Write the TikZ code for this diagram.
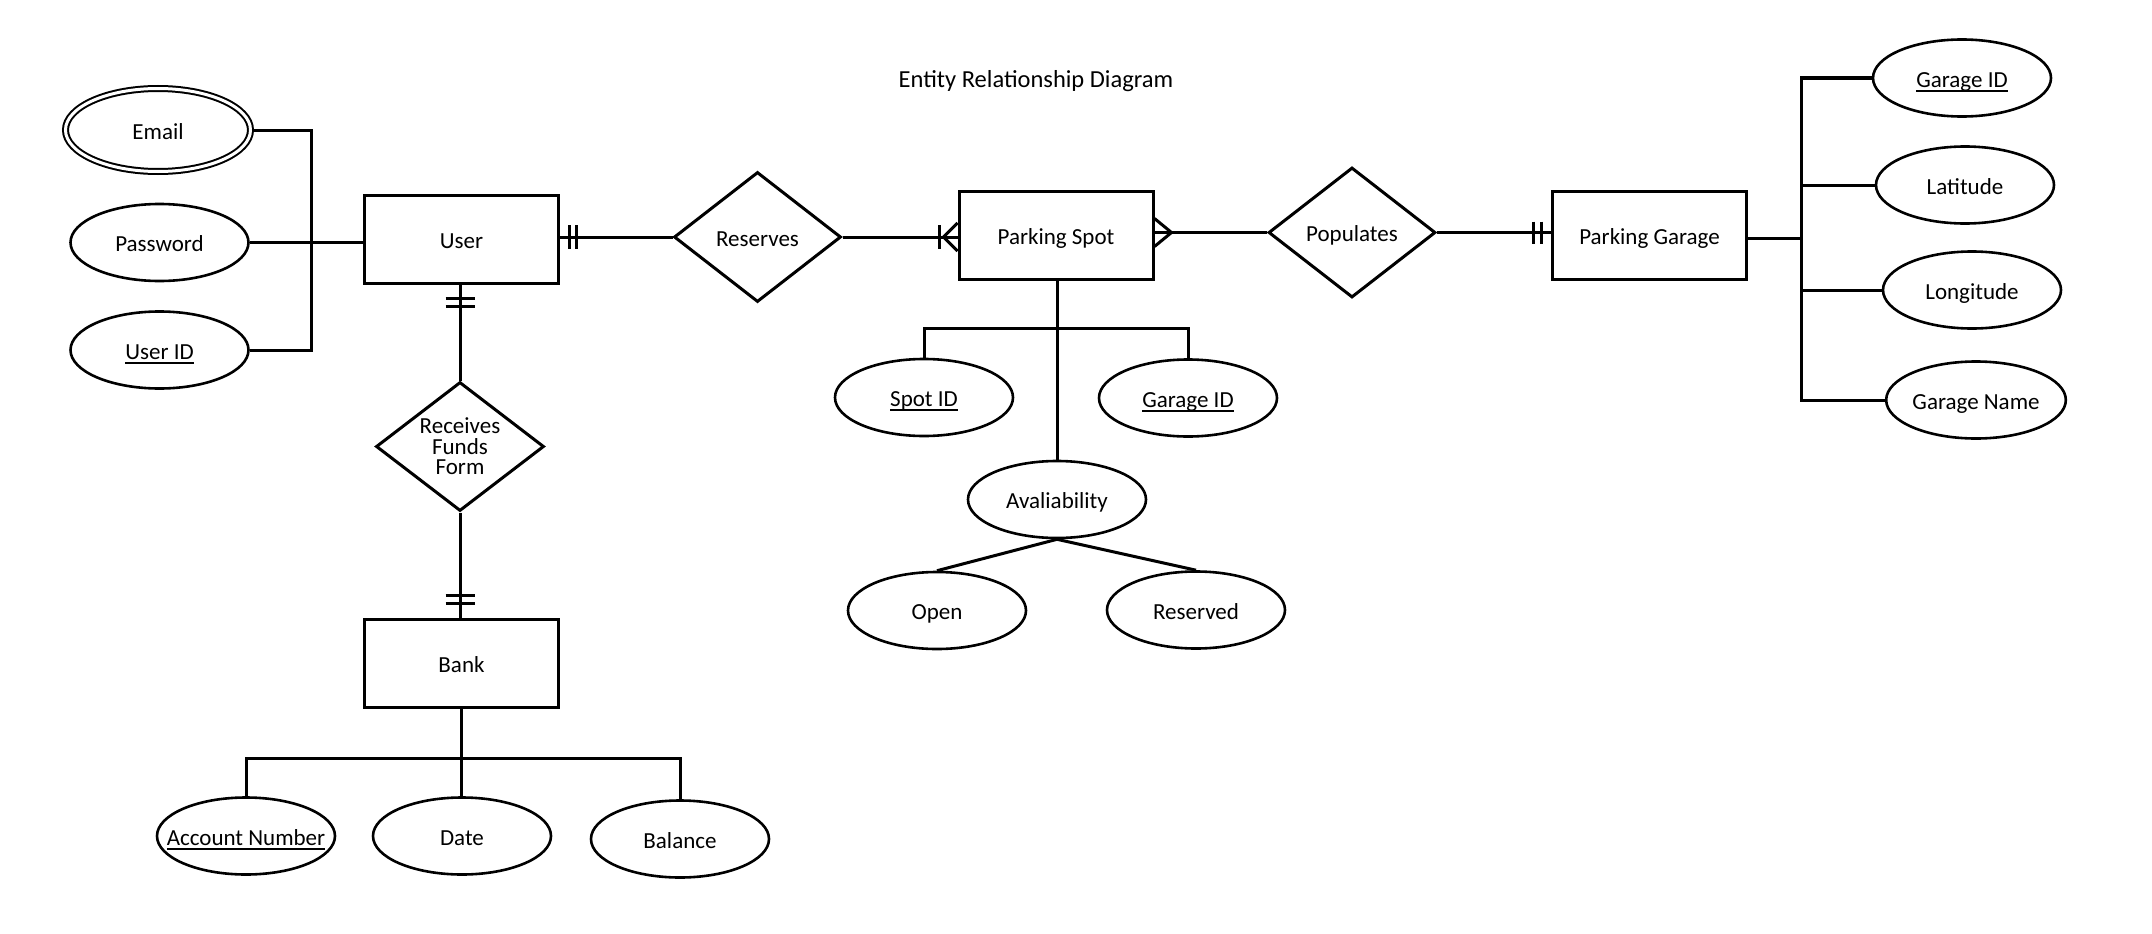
\documentclass[tikz,border=0pt]{standalone}
\usepackage{fontspec}
\setmainfont{Carlito}
\usetikzlibrary{shapes.geometric}
\newcommand\ulx[1]{\setbox0\hbox{#1}\rlap{\rule[-4.5pt]{\wd0}{1.8pt}}\box0}
\begin{document}
\begin{tikzpicture}[x=1pt,y=-1pt,
  every node/.style={font=\fontsize{23}{20.5}\selectfont, text=black},
  lbl/.style={text height=21pt, text depth=3pt},
  ln/.style={line width=3pt},
  ent/.style={lbl, draw, line width=3pt, rectangle, minimum width=194pt, minimum height=88pt, inner sep=0pt},
  attr/.style={lbl, draw, line width=2.6pt, ellipse, minimum width=178pt, minimum height=77pt, inner sep=0pt},
  rel/.style={lbl, draw, line width=3pt, diamond, aspect=1.3, inner sep=0pt, minimum width=167pt, minimum height=130pt},
  mattr/.style={attr, double, double distance=3pt, line width=2pt, minimum width=185pt, minimum height=83pt}
]
\useasboundingbox (0,0) rectangle (2152,934);

\node[font=\fontsize{24.5}{28}\selectfont, anchor=base] (title) at (1036,88) {Entity Relationship Diagram};

% entities and relationships
\node[ent] (user) at (461.5,239) {User};
\node[rel] (reserves) at (757.5,237) {Reserves};
\node[ent] (spot) at (1056,235) {Parking Spot};
\node[rel] (populates) at (1352,232.5) {Populates};
\node[ent] (garage) at (1649.5,235.5) {Parking Garage};
\node[rel, text height=, text depth=, minimum width=168pt, minimum height=129pt, align=center] (rff) at (460,446.5) {Receives\\Funds\\Form};
\node[ent] (bank) at (461.5,663) {Bank};

% user attributes
\node[mattr] (email) at (158,130) {Email};
\node[attr] (password) at (159.5,242.5) {Password};
\node[attr] (userid) at (159.5,350) {\ulx{User ID}};

% garage attributes
\node[attr] (gid) at (1962,78) {\ulx{Garage ID}};
\node[attr] (lat) at (1965,185) {Latitude};
\node[attr] (lon) at (1972,290) {Longitude};
\node[attr] (gname) at (1976,400) {Garage Name};

% spot attributes
\node[attr] (spotid) at (924,397.5) {\ulx{Spot ID}};
\node[attr] (sgid) at (1188,398) {\ulx{Garage ID}};
\node[attr] (avail) at (1057,499.5) {Avaliability};
\node[attr] (open) at (937,610.5) {Open};
\node[attr] (reserved) at (1196,610) {Reserved};

% bank attributes
\node[attr] (accnum) at (246,836) {\makebox[0pt]{\ulx{Account Number}}};
\node[attr] (date) at (462,836) {Date};
\node[attr] (balance) at (680,839) {Balance};

% relationship connectors
\draw[ln] (reserves.west) -- (reserves.west -| user.east);
\draw[ln] (reserves.east) -- (reserves.east -| spot.west);
\draw[ln] (populates.west) -- (populates.west -| spot.east);
\draw[ln] (populates.east) -- (populates.east -| garage.west);
\draw[ln] (rff.north) -- (rff.north |- user.south);
\draw[ln] (rff.south) -- (rff.south |- bank.north);

% cardinality marks
\coordinate (ur) at (user.east |- reserves.west);
\draw[ln] (ur) ++(9,-12) -- ++(0,24);
\draw[ln] (ur) ++(16,-12) -- ++(0,24);
\coordinate (sl) at (spot.west |- reserves.east);
\draw[ln] (sl) ++(-18,-12) -- ++(0,24);
\draw[ln] (sl) ++(0,-14) -- ++(-14,14) -- ++(14,14);
\coordinate (sr) at (spot.east |- populates.west);
\draw[ln] (sr) ++(0,-14) -- ++(17,14) -- ++(-17,14);
\coordinate (gl) at (garage.west |- populates.east);
\draw[ln] (gl) ++(-18,-11) -- ++(0,22);
\draw[ln] (gl) ++(-10,-11) -- ++(0,22);
\coordinate (us) at (rff.north |- user.south);
\draw[ln] (us) ++(-14.5,14) -- ++(29,0);
\draw[ln] (us) ++(-14.5,22) -- ++(29,0);
\coordinate (bn) at (rff.south |- bank.north);
\draw[ln] (bn) ++(-14.5,-22) -- ++(29,0);
\draw[ln] (bn) ++(-14.5,-14) -- ++(29,0);

% user attribute connectors
\coordinate (ubr) at (311,241);
\draw[ln] (email.east) -| (ubr);
\draw[ln] (userid.east) -| (ubr);
\draw[ln] (password.east) -- (password.east -| user.west);

% garage attribute connectors
\coordinate (gbr) at (1801,238);
\draw[ln] (garage.east |- gbr) -- (gbr);
\draw[ln] (gid.west) -| (gbr);
\draw[ln] (gname.west) -| (gbr);
\draw[ln] (lat.west) -- (lat.west -| gbr);
\draw[ln] (lon.west) -- (lon.west -| gbr);

% spot attribute connectors
\coordinate (sbr) at (1057,328);
\draw[ln] (spot.south -| avail.north) -- (avail.north);
\draw[ln] (spotid.north) |- (sbr) -| (sgid.north);
\draw[ln] (avail.south) -- (open.north);
\draw[ln] (avail.south) -- (reserved.north);

% bank attribute connectors
\coordinate (bbr) at (461,758);
\draw[ln] (bank.south) -- (bank.south |- date.north);
\draw[ln] (accnum.north) |- (bbr) -| (balance.north);
\end{tikzpicture}
\end{document}
